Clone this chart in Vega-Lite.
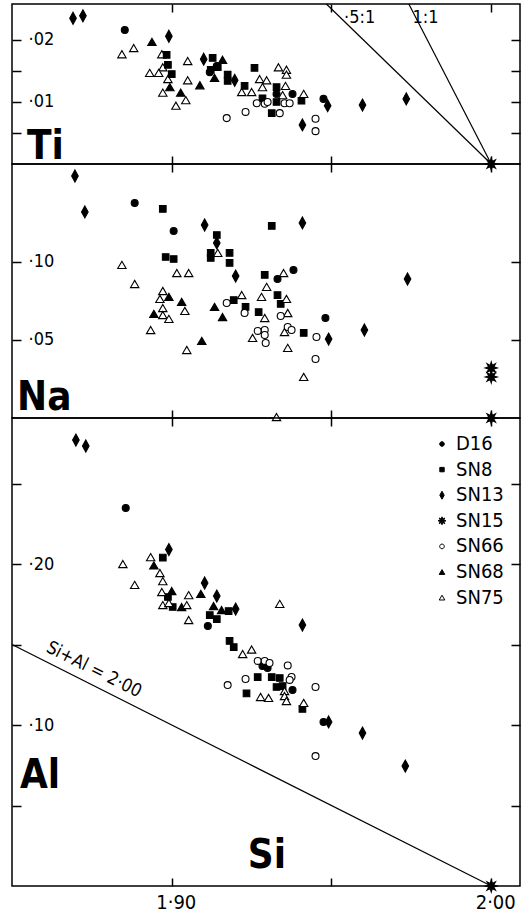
{
"$schema":"https://vega.github.io/schema/vega-lite/v6.json",
"background":"white",
"padding":{"left":8,"top":0,"right":2,"bottom":0},
"spacing":0,
"bounds":"flush",
"config":{"view":{"stroke":"black","strokeWidth":1.5},"font":"DejaVu Sans Condensed","axis":{"domain":false,"grid":false,"tickColor":"black","tickWidth":1.5,"labelColor":"black","labelFont":"DejaVu Sans Condensed","minExtent":0},"text":{"font":"DejaVu Sans Condensed","color":"black"}},
"datasets":{
"one":[{}],
"tilines":[{"line":"half","si":2.0,"v":0},{"line":"half","si":1.9484,"v":0.0258},{"line":"one","si":2.0,"v":0},{"line":"one","si":1.9742,"v":0.0258}],
"alline":[{"si":1.85,"v":0.15},{"si":2.0,"v":0}],
"ti":[
{"s":"SN13","si":1.8691,"v":0.0235},{"s":"SN13","si":1.8722,"v":0.0239},{"s":"SN13","si":1.8991,"v":0.0206},{"s":"SN13","si":1.91,"v":0.0169},{"s":"SN13","si":1.9197,"v":0.0135},{"s":"SN13","si":1.9488,"v":0.0094},{"s":"SN13","si":1.9409,"v":0.0063},{"s":"SN13","si":1.9597,"v":0.0095},{"s":"SN13","si":1.9734,"v":0.0105},
{"s":"D16","si":1.8853,"v":0.0216},{"s":"D16","si":1.9119,"v":0.0148},{"s":"D16","si":1.9141,"v":0.0158},{"s":"D16","si":1.9328,"v":0.0113},{"s":"D16","si":1.9378,"v":0.0113},{"s":"D16","si":1.9475,"v":0.0105},
{"s":"SN68","si":1.8938,"v":0.0197},{"s":"SN68","si":1.8994,"v":0.0124},{"s":"SN68","si":1.9028,"v":0.0115},{"s":"SN68","si":1.9088,"v":0.0127},{"s":"SN68","si":1.9159,"v":0.0168},{"s":"SN68","si":1.9134,"v":0.0139},
{"s":"SN75","si":1.8844,"v":0.0177},{"s":"SN75","si":1.8881,"v":0.0187},{"s":"SN75","si":1.8969,"v":0.0177},{"s":"SN75","si":1.8972,"v":0.0156},{"s":"SN75","si":1.8931,"v":0.0147},{"s":"SN75","si":1.8959,"v":0.0147},{"s":"SN75","si":1.8988,"v":0.0137},{"s":"SN75","si":1.8972,"v":0.0115},{"s":"SN75","si":1.9013,"v":0.0094},{"s":"SN75","si":1.9044,"v":0.0103},{"s":"SN75","si":1.905,"v":0.0166},{"s":"SN75","si":1.905,"v":0.0135},{"s":"SN75","si":1.9219,"v":0.0116},{"s":"SN75","si":1.925,"v":0.0116},{"s":"SN75","si":1.9275,"v":0.0137},{"s":"SN75","si":1.9297,"v":0.0135},{"s":"SN75","si":1.9284,"v":0.0124},{"s":"SN75","si":1.9334,"v":0.0156},{"s":"SN75","si":1.9359,"v":0.0152},{"s":"SN75","si":1.9359,"v":0.0144},{"s":"SN75","si":1.9356,"v":0.0126},{"s":"SN75","si":1.9347,"v":0.0111},{"s":"SN75","si":1.9413,"v":0.0113},
{"s":"SN8","si":1.8984,"v":0.0176},{"s":"SN8","si":1.8988,"v":0.016},{"s":"SN8","si":1.9,"v":0.0145},{"s":"SN8","si":1.9128,"v":0.0171},{"s":"SN8","si":1.9122,"v":0.0152},{"s":"SN8","si":1.9144,"v":0.0156},{"s":"SN8","si":1.9175,"v":0.0144},{"s":"SN8","si":1.9175,"v":0.0134},{"s":"SN8","si":1.9228,"v":0.0126},{"s":"SN8","si":1.9259,"v":0.0155},{"s":"SN8","si":1.9284,"v":0.0106},{"s":"SN8","si":1.9313,"v":0.0082},{"s":"SN8","si":1.9328,"v":0.0124},{"s":"SN8","si":1.9328,"v":0.01},{"s":"SN8","si":1.9406,"v":0.0102},
{"s":"SN66","si":1.9172,"v":0.0074},{"s":"SN66","si":1.9231,"v":0.0084},{"s":"SN66","si":1.9266,"v":0.0098},{"s":"SN66","si":1.9291,"v":0.0097},{"s":"SN66","si":1.93,"v":0.01},{"s":"SN66","si":1.9338,"v":0.0082},{"s":"SN66","si":1.9353,"v":0.0098},{"s":"SN66","si":1.9369,"v":0.0098},{"s":"SN66","si":1.945,"v":0.0073},{"s":"SN66","si":1.945,"v":0.0053},
{"s":"SN15","si":2.0,"v":0}],
"na":[
{"s":"SN13","si":1.8697,"v":0.1551},{"s":"SN13","si":1.8728,"v":0.1321},{"s":"SN13","si":1.9103,"v":0.1237},{"s":"SN13","si":1.9141,"v":0.1122},{"s":"SN13","si":1.92,"v":0.091},{"s":"SN13","si":1.9409,"v":0.125},{"s":"SN13","si":1.9738,"v":0.0891},{"s":"SN13","si":1.9603,"v":0.0564},{"s":"SN13","si":1.9491,"v":0.0506},
{"s":"D16","si":1.8884,"v":0.1378},{"s":"D16","si":1.9006,"v":0.1199},{"s":"D16","si":1.9331,"v":0.0891},{"s":"D16","si":1.9381,"v":0.0949},{"s":"D16","si":1.9481,"v":0.0641},
{"s":"SN8","si":1.8972,"v":0.134},{"s":"SN8","si":1.9141,"v":0.1173},{"s":"SN8","si":1.9122,"v":0.1058},{"s":"SN8","si":1.9122,"v":0.1026},{"s":"SN8","si":1.9181,"v":0.1058},{"s":"SN8","si":1.9181,"v":0.0994},{"s":"SN8","si":1.8981,"v":0.1032},{"s":"SN8","si":1.9006,"v":0.1019},{"s":"SN8","si":1.9194,"v":0.0756},{"s":"SN8","si":1.9231,"v":0.0712},{"s":"SN8","si":1.9291,"v":0.0917},{"s":"SN8","si":1.9313,"v":0.1231},{"s":"SN8","si":1.9331,"v":0.0788},{"s":"SN8","si":1.9341,"v":0.0731},{"s":"SN8","si":1.9272,"v":0.0679},{"s":"SN8","si":1.9413,"v":0.0545},
{"s":"SN68","si":1.8991,"v":0.0776},{"s":"SN68","si":1.9031,"v":0.0744},{"s":"SN68","si":1.8944,"v":0.0667},{"s":"SN68","si":1.9134,"v":0.0712},{"s":"SN68","si":1.9159,"v":0.0647},{"s":"SN68","si":1.9094,"v":0.0494},
{"s":"SN75","si":1.8844,"v":0.0981},{"s":"SN75","si":1.8884,"v":0.0859},{"s":"SN75","si":1.9016,"v":0.0929},{"s":"SN75","si":1.9053,"v":0.0929},{"s":"SN75","si":1.8972,"v":0.0814},{"s":"SN75","si":1.8963,"v":0.0763},{"s":"SN75","si":1.8972,"v":0.0705},{"s":"SN75","si":1.8972,"v":0.066},{"s":"SN75","si":1.8991,"v":0.0635},{"s":"SN75","si":1.9041,"v":0.0686},{"s":"SN75","si":1.8934,"v":0.0564},{"s":"SN75","si":1.9047,"v":0.0436},{"s":"SN75","si":1.9144,"v":0.1058},{"s":"SN75","si":1.9219,"v":0.0788},{"s":"SN75","si":1.9297,"v":0.084},{"s":"SN75","si":1.9281,"v":0.0776},{"s":"SN75","si":1.935,"v":0.0929},{"s":"SN75","si":1.9359,"v":0.0763},{"s":"SN75","si":1.9291,"v":0.0641},{"s":"SN75","si":1.9363,"v":0.0673},{"s":"SN75","si":1.9253,"v":0.0513},{"s":"SN75","si":1.9353,"v":0.0551},{"s":"SN75","si":1.9363,"v":0.0449},{"s":"SN75","si":1.9413,"v":0.0263},{"s":"SN75","si":1.9328,"v":0.0006},
{"s":"SN66","si":1.9172,"v":0.0737},{"s":"SN66","si":1.9228,"v":0.0673},{"s":"SN66","si":1.9341,"v":0.0654},{"s":"SN66","si":1.9269,"v":0.0558},{"s":"SN66","si":1.9291,"v":0.0564},{"s":"SN66","si":1.9291,"v":0.0532},{"s":"SN66","si":1.9294,"v":0.0481},{"s":"SN66","si":1.9363,"v":0.0583},{"s":"SN66","si":1.9375,"v":0.0564},{"s":"SN66","si":1.9453,"v":0.0519},{"s":"SN66","si":1.945,"v":0.0378},
{"s":"SN15","si":2.0,"v":0.0321},{"s":"SN15","si":2.0,"v":0.0263},{"s":"SN15","si":2.0,"v":0}],
"al":[
{"s":"SN13","si":1.87,"v":0.277},{"s":"SN13","si":1.8731,"v":0.2733},{"s":"SN13","si":1.8991,"v":0.209},{"s":"SN13","si":1.9103,"v":0.1882},{"s":"SN13","si":1.9141,"v":0.1801},{"s":"SN13","si":1.92,"v":0.172},{"s":"SN13","si":1.9409,"v":0.1621},{"s":"SN13","si":1.9491,"v":0.1019},{"s":"SN13","si":1.9597,"v":0.095},{"s":"SN13","si":1.9731,"v":0.0745},
{"s":"D16","si":1.8856,"v":0.2348},{"s":"D16","si":1.9113,"v":0.1615},{"s":"D16","si":1.9284,"v":0.1366},{"s":"D16","si":1.9378,"v":0.1217},{"s":"D16","si":1.9475,"v":0.1019},{"s":"D16","si":1.93,"v":0.1354},
{"s":"SN8","si":1.8972,"v":0.204},{"s":"SN8","si":1.8988,"v":0.1795},{"s":"SN8","si":1.9003,"v":0.1733},{"s":"SN8","si":1.9119,"v":0.1683},{"s":"SN8","si":1.9141,"v":0.1658},{"s":"SN8","si":1.9178,"v":0.1708},{"s":"SN8","si":1.9181,"v":0.1522},{"s":"SN8","si":1.9194,"v":0.1484},{"s":"SN8","si":1.9234,"v":0.1196},{"s":"SN8","si":1.9269,"v":0.1298},{"s":"SN8","si":1.9313,"v":0.1298},{"s":"SN8","si":1.9338,"v":0.1292},{"s":"SN8","si":1.9328,"v":0.1236},{"s":"SN8","si":1.9347,"v":0.1242},{"s":"SN8","si":1.9409,"v":0.11},
{"s":"SN68","si":1.8944,"v":0.1991},{"s":"SN68","si":1.9,"v":0.1832},{"s":"SN68","si":1.9031,"v":0.1733},{"s":"SN68","si":1.9091,"v":0.1814},{"s":"SN68","si":1.9131,"v":0.1739},{"s":"SN68","si":1.9156,"v":0.1714},
{"s":"SN75","si":1.8847,"v":0.2},{"s":"SN75","si":1.8884,"v":0.187},{"s":"SN75","si":1.8934,"v":0.2043},{"s":"SN75","si":1.8963,"v":0.1944},{"s":"SN75","si":1.8972,"v":0.1894},{"s":"SN75","si":1.8969,"v":0.1826},{"s":"SN75","si":1.8972,"v":0.1745},{"s":"SN75","si":1.8991,"v":0.1758},{"s":"SN75","si":1.9047,"v":0.1745},{"s":"SN75","si":1.9053,"v":0.1807},{"s":"SN75","si":1.9053,"v":0.1652},{"s":"SN75","si":1.9222,"v":0.1441},{"s":"SN75","si":1.925,"v":0.1469},{"s":"SN75","si":1.9338,"v":0.1752},{"s":"SN75","si":1.9278,"v":0.1174},{"s":"SN75","si":1.9303,"v":0.1168},{"s":"SN75","si":1.9353,"v":0.1211},{"s":"SN75","si":1.9353,"v":0.118},{"s":"SN75","si":1.9359,"v":0.1149},{"s":"SN75","si":1.9413,"v":0.1137},
{"s":"SN66","si":1.9175,"v":0.1248},{"s":"SN66","si":1.9231,"v":0.1286},{"s":"SN66","si":1.9269,"v":0.1398},{"s":"SN66","si":1.9291,"v":0.1398},{"s":"SN66","si":1.9306,"v":0.1385},{"s":"SN66","si":1.9363,"v":0.137},{"s":"SN66","si":1.9375,"v":0.1298},{"s":"SN66","si":1.9369,"v":0.128},{"s":"SN66","si":1.945,"v":0.1236},{"s":"SN66","si":1.945,"v":0.0807},
{"s":"SN15","si":2.0,"v":0}]
},
"resolve":{"scale":{"x":"independent","y":"independent","shape":"shared","fill":"shared"},"legend":{"shape":"shared","fill":"shared"}},
"vconcat":[
{"width":508,"height":160,
 "layer":[
  {"data":{"name":"tilines"},"mark":{"type":"line","stroke":"black","strokeWidth":1.2},
   "encoding":{
    "x":{"field":"si","type":"quantitative","title":null,"scale":{"domain":[1.85,2.009],"nice":false,"zero":false},"axis":{"orient":"top","values":[1.9,1.95,2.0],"labels":false,"tickSize":-8}},
    "y":{"field":"v","type":"quantitative","title":null,"scale":{"domain":[0,0.0258],"nice":false,"zero":false},"axis":{"orient":"right","values":[0.005,0.01,0.015,0.02],"labels":false,"tickSize":-9}},
    "detail":{"field":"line"}}},
  {"data":{"name":"ti"},"mark":{"type":"point","filled":true,"stroke":"black","strokeWidth":1.1,"size":144,"opacity":1},
   "encoding":{
    "x":{"field":"si","type":"quantitative","title":null,"scale":{"domain":[1.85,2.009],"nice":false,"zero":false},"axis":{"orient":"bottom","values":[1.9,1.95,2.0],"labels":false,"tickSize":-8}},
    "y":{"field":"v","type":"quantitative","title":null,"scale":{"domain":[0,0.0258],"nice":false,"zero":false},"axis":{"orient":"left","values":[0.005,0.01,0.015,0.02],"tickSize":-9,"labelAlign":"left","labelPadding":-7,"labelFontSize":18,"labelExpr":"datum.value==0.01?'·01':datum.value==0.02?'·02':''"}},
    "shape":{"field":"s","type":"nominal","title":null,"scale":{"domain":["D16","SN8","SN13","SN15","SN66","SN68","SN75"],"range":["M0.58,0A0.58,0.58 0 1,1 -0.58,0A0.58,0.58 0 1,1 0.58,0Z","M-0.55,-0.55L0.55,-0.55L0.55,0.55L-0.55,0.55Z","M0,-1L0.55,0L0,1L-0.55,0Z","M1,0L0.416,0.172L0.707,0.707L0.172,0.416L0,1L-0.172,0.416L-0.707,0.707L-0.416,0.172L-1,0L-0.416,-0.172L-0.707,-0.707L-0.172,-0.416L0,-1L0.172,-0.416L0.707,-0.707L0.416,-0.172Z","M0.58,0A0.58,0.58 0 1,1 -0.58,0A0.58,0.58 0 1,1 0.58,0Z","M0,-0.6L0.7,0.6L-0.7,0.6Z","M0,-0.6L0.7,0.6L-0.7,0.6Z"]}},
    "fill":{"field":"s","type":"nominal","title":null,"scale":{"domain":["D16","SN8","SN13","SN15","SN66","SN68","SN75"],"range":["black","black","black","black","white","black","white"]}}}},
  {"data":{"name":"one"},"mark":{"type":"text","text":"Ti","fontSize":40,"fontWeight":"bold","align":"left","baseline":"alphabetic"},
   "encoding":{"x":{"datum":1.8547,"type":"quantitative","axis":null},"y":{"datum":0.0008,"type":"quantitative","axis":null}}},
  {"data":{"name":"one"},"mark":{"type":"text","text":"·5:1","fontSize":18,"align":"center","baseline":"middle"},
   "encoding":{"x":{"datum":1.9588,"type":"quantitative","axis":null},"y":{"datum":0.0235,"type":"quantitative","axis":null}}},
  {"data":{"name":"one"},"mark":{"type":"text","text":"1:1","fontSize":18,"align":"center","baseline":"middle"},
   "encoding":{"x":{"datum":1.9794,"type":"quantitative","axis":null},"y":{"datum":0.0235,"type":"quantitative","axis":null}}}
 ],
 "resolve":{"axis":{"x":"independent","y":"independent"}}},
{"width":508,"height":254,
 "layer":[
  {"data":{"name":"one"},"mark":{"type":"text","text":"Na","fontSize":40,"fontWeight":"bold","align":"left","baseline":"alphabetic"},
   "encoding":{
    "x":{"datum":1.8516,"type":"quantitative","title":null,"scale":{"domain":[1.85,2.009],"nice":false,"zero":false},"axis":{"orient":"top","values":[1.9,1.95,2.0],"labels":false,"tickSize":-8}},
    "y":{"datum":0.0051,"type":"quantitative","title":null,"scale":{"domain":[0,0.1628],"nice":false,"zero":false},"axis":{"orient":"right","values":[0.05,0.1],"labels":false,"tickSize":-9}}}},
  {"data":{"name":"na"},"mark":{"type":"point","filled":true,"stroke":"black","strokeWidth":1.1,"size":144,"opacity":1},
   "encoding":{
    "x":{"field":"si","type":"quantitative","title":null,"scale":{"domain":[1.85,2.009],"nice":false,"zero":false},"axis":{"orient":"bottom","values":[1.9,1.95,2.0],"labels":false,"tickSize":-8}},
    "y":{"field":"v","type":"quantitative","title":null,"scale":{"domain":[0,0.1628],"nice":false,"zero":false},"axis":{"orient":"left","values":[0.05,0.1],"tickSize":-9,"labelAlign":"left","labelPadding":-7,"labelFontSize":18,"labelExpr":"datum.value==0.05?'·05':datum.value==0.1?'·10':''"}},
    "shape":{"field":"s","type":"nominal","title":null},
    "fill":{"field":"s","type":"nominal","title":null}}}
 ],
 "resolve":{"axis":{"x":"independent","y":"independent"}}},
{"width":508,"height":468,
 "layer":[
  {"data":{"name":"alline"},"mark":{"type":"line","stroke":"black","strokeWidth":1.2},
   "encoding":{
    "x":{"field":"si","type":"quantitative","title":null,"scale":{"domain":[1.85,2.009],"nice":false,"zero":false},"axis":{"orient":"top","values":[1.9,1.95,2.0],"labels":false,"tickSize":-8}},
    "y":{"field":"v","type":"quantitative","title":null,"scale":{"domain":[0,0.2907],"nice":false,"zero":false},"axis":{"orient":"right","values":[0.05,0.1,0.15,0.2,0.25],"labels":false,"tickSize":-9}}}},
  {"data":{"name":"al"},"mark":{"type":"point","filled":true,"stroke":"black","strokeWidth":1.1,"size":144,"opacity":1},
   "encoding":{
    "x":{"field":"si","type":"quantitative","title":null,"scale":{"domain":[1.85,2.009],"nice":false,"zero":false},"axis":{"orient":"bottom","values":[1.9,1.95,2.0],"tickSize":-8,"labelPadding":14,"labelFontSize":20,"labelFlush":false,"labelOffset":4,"labelExpr":"datum.value==1.9?'1·90':datum.value==2?'2·00':''"}},
    "y":{"field":"v","type":"quantitative","title":null,"scale":{"domain":[0,0.2907],"nice":false,"zero":false},"axis":{"orient":"left","values":[0.05,0.1,0.15,0.2,0.25],"tickSize":-9,"labelAlign":"left","labelPadding":-7,"labelFontSize":18,"labelExpr":"datum.value==0.1?'·10':datum.value==0.2?'·20':''"}},
    "shape":{"field":"s","type":"nominal","title":null,"legend":{"orient":"none","legendX":420,"legendY":430,"title":null,"padding":0,"labelFont":"DejaVu Sans Condensed","labelFontSize":20,"labelColor":"black","labelOffset":4,"symbolSize":64,"symbolStrokeColor":"black","symbolStrokeWidth":1,"rowPadding":5.6}},
    "fill":{"field":"s","type":"nominal","title":null}}},
  {"data":{"name":"one"},"mark":{"type":"text","text":"Al","fontSize":40,"fontWeight":"bold","align":"left","baseline":"alphabetic"},
   "encoding":{"x":{"datum":1.8525,"type":"quantitative","axis":null},"y":{"datum":0.0609,"type":"quantitative","axis":null}}},
  {"data":{"name":"one"},"mark":{"type":"text","text":"Si","fontSize":40,"fontWeight":"bold","align":"left","baseline":"alphabetic"},
   "encoding":{"x":{"datum":1.9238,"type":"quantitative","axis":null},"y":{"datum":0.0112,"type":"quantitative","axis":null}}},
  {"data":{"name":"one"},"mark":{"type":"text","text":"Si+Al = 2·00","fontSize":18,"angle":26.6,"align":"center","baseline":"middle"},
   "encoding":{"x":{"datum":1.8756,"type":"quantitative","axis":null},"y":{"datum":0.1342,"type":"quantitative","axis":null}}}
 ],
 "resolve":{"axis":{"x":"independent","y":"independent"}}}
]
}
